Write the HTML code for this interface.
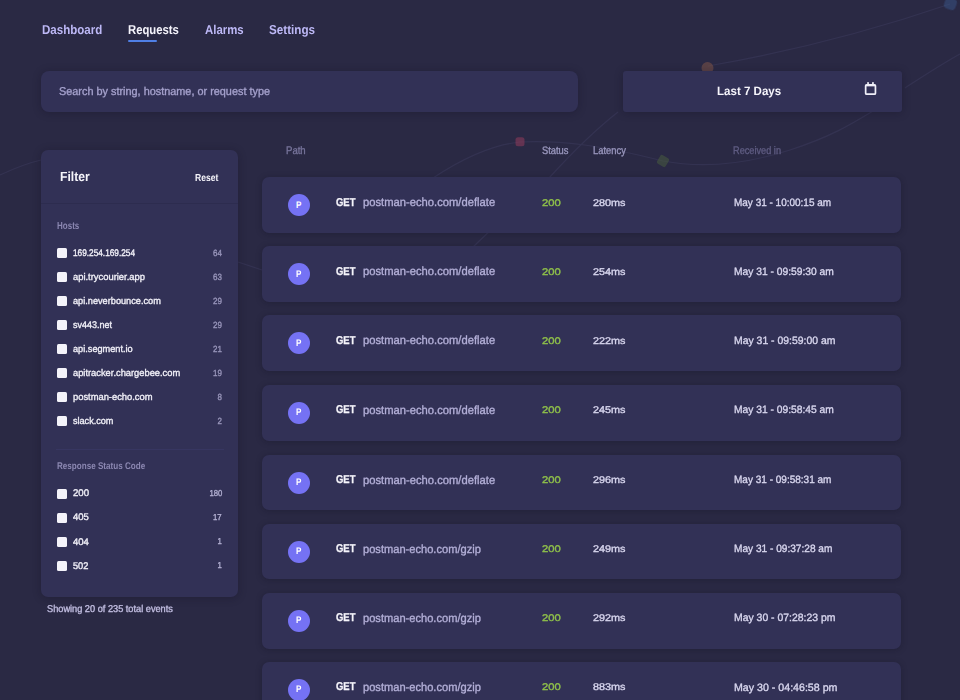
<!DOCTYPE html>
<html><head><meta charset="utf-8"><style>
html,body{margin:0;padding:0;}
body{width:960px;height:700px;overflow:hidden;background:#2a2944;position:relative;font-family:"Liberation Sans",sans-serif;}
.t{position:absolute;white-space:nowrap;line-height:1;transform-origin:0 0;text-rendering:geometricPrecision;}
.box{position:absolute;box-sizing:border-box;}
.card{position:absolute;background:#323156;}
.cb{position:absolute;width:10px;height:10px;background:#f4f3fa;border-radius:1.5px;}
.av{position:absolute;width:22px;height:22px;border-radius:50%;background:#7572f4;}
</style></head><body>
<svg style="position:absolute;left:0;top:0" width="960" height="700" viewBox="0 0 960 700">
<defs><filter id="bl" x="-10%" y="-10%" width="120%" height="120%"><feGaussianBlur stdDeviation="0.6"/></filter></defs>
<g fill="none" stroke="#4a4870" stroke-width="1.2" opacity="0.3" filter="url(#bl)">
<path d="M708 66 Q 830 45 950 4"/>
<path d="M960 54 C 940 65, 925 75, 905 88"/>
<path d="M433 178 C 460 160, 490 145, 520 142 C 560 140, 600 145, 663 161 C 700 168, 740 166, 790 150 C 830 137, 850 125, 873 111"/>
<path d="M470 250 C 500 220, 525 200, 549 178 C 570 155, 595 130, 618 112"/>
<path d="M0 175 C 15 168, 28 163, 41 160"/>
<path d="M238 262 L262 270"/>
</g>
<g filter="url(#bl)" opacity="0.6"><circle cx="707.5" cy="68" r="6" fill="#7a5248"/>
<rect x="944.5" y="-2" width="12" height="11.5" rx="4" fill="#3a5588" opacity="0.85" transform="rotate(20 950.5 3.5)"/>
<rect x="515.5" y="137.2" width="9" height="9" rx="2.5" fill="#8a3a5a"/>
<rect x="658" y="156" width="10" height="10" rx="2" fill="#46593f" transform="rotate(30 663 161)"/></g>
</svg>
<div class="t" style="left:41.70px;top:24.02px;font-size:12.85px;color:#bdb8f6;font-weight:700;transform:scaleX(0.8982);">Dashboard</div>
<div class="t" style="left:128.00px;top:24.02px;font-size:12.85px;color:#f4f3fb;font-weight:700;transform:scaleX(0.8786);">Requests</div>
<div class="t" style="left:204.70px;top:24.02px;font-size:12.85px;color:#bdb8f6;font-weight:700;transform:scaleX(0.8862);">Alarms</div>
<div class="t" style="left:268.70px;top:24.02px;font-size:12.85px;color:#bdb8f6;font-weight:700;transform:scaleX(0.9075);">Settings</div>
<div class="box" style="left:128px;top:40px;width:29px;height:2px;background:#4f7fe6;border-radius:1px"></div>
<div class="card" style="left:41px;top:71px;width:537px;height:40.5px;border-radius:8px;box-shadow:0 1px 8px rgba(15,14,30,0.3)"></div>
<div class="t" style="left:59.00px;top:87.13px;font-size:11.31px;color:#a5a1cc;font-weight:400;transform:scaleX(0.9628);-webkit-text-stroke:0.35px currentColor;">Search by string, hostname, or request type</div>
<div class="card" style="left:622.5px;top:71px;width:279px;height:40.5px;border-radius:3px;box-shadow:0 1px 8px rgba(15,14,30,0.3)"></div>
<div class="t" style="left:717.20px;top:84.83px;font-size:12.01px;color:#f6f5fb;font-weight:700;transform:scaleX(0.9613);">Last 7 Days</div>
<svg style="position:absolute;left:862px;top:80px" width="18" height="18" viewBox="0 0 18 18">
<rect x="3.65" y="4.75" width="9.8" height="9.4" rx="1" fill="none" stroke="#f0eff8" stroke-width="1.7"/>
<rect x="3.65" y="4.75" width="9.8" height="1.6" fill="#f0eff8"/>
<rect x="5.2" y="2" width="1.7" height="2.8" rx="0.4" fill="#f0eff8"/>
<rect x="10.1" y="2" width="1.7" height="2.8" rx="0.4" fill="#f0eff8"/>
</svg>
<div class="card" style="left:41px;top:150.3px;width:197px;height:446.3px;border-radius:7px;box-shadow:0 1px 8px rgba(15,14,30,0.3)"></div>
<div class="box" style="left:41px;top:203px;width:197px;height:1px;background:#2d2c4f"></div>
<div class="t" style="left:60.20px;top:170.37px;font-size:13.27px;color:#f6f5fb;font-weight:700;transform:scaleX(0.9186);">Filter</div>
<div class="t" style="left:195.00px;top:173.67px;font-size:10.2px;color:#f6f5fb;font-weight:700;transform:scaleX(0.8422);">Reset</div>
<div class="t" style="left:57.00px;top:221.87px;font-size:10.2px;color:#8b87b1;font-weight:700;transform:scaleX(0.7868);">Hosts</div>
<div class="cb" style="left:57px;top:248.3px"></div>
<div class="t" style="left:73.40px;top:248.94px;font-size:9.64px;color:#f1f0f8;font-weight:400;transform:scaleX(0.8581);-webkit-text-stroke:0.35px currentColor;">169.254.169.254</div>
<div class="t" style="right:738.1px;top:248.57px;font-size:8.9px;color:#9895ba;transform-origin:100% 0;transform:scaleX(0.9);-webkit-text-stroke:0.35px currentColor;">64</div>
<div class="cb" style="left:57px;top:272.3px"></div>
<div class="t" style="left:73.40px;top:272.94px;font-size:9.64px;color:#f1f0f8;font-weight:400;transform:scaleX(0.9741);-webkit-text-stroke:0.35px currentColor;">api.trycourier.app</div>
<div class="t" style="right:738.1px;top:272.57px;font-size:8.9px;color:#9895ba;transform-origin:100% 0;transform:scaleX(0.9);-webkit-text-stroke:0.35px currentColor;">63</div>
<div class="cb" style="left:57px;top:296.3px"></div>
<div class="t" style="left:73.40px;top:296.94px;font-size:9.64px;color:#f1f0f8;font-weight:400;transform:scaleX(0.9541);-webkit-text-stroke:0.35px currentColor;">api.neverbounce.com</div>
<div class="t" style="right:738.1px;top:296.57px;font-size:8.9px;color:#9895ba;transform-origin:100% 0;transform:scaleX(0.9);-webkit-text-stroke:0.35px currentColor;">29</div>
<div class="cb" style="left:57px;top:320.3px"></div>
<div class="t" style="left:73.40px;top:320.94px;font-size:9.64px;color:#f1f0f8;font-weight:400;transform:scaleX(0.9336);-webkit-text-stroke:0.35px currentColor;">sv443.net</div>
<div class="t" style="right:738.1px;top:320.57px;font-size:8.9px;color:#9895ba;transform-origin:100% 0;transform:scaleX(0.9);-webkit-text-stroke:0.35px currentColor;">29</div>
<div class="cb" style="left:57px;top:344.3px"></div>
<div class="t" style="left:73.40px;top:344.94px;font-size:9.64px;color:#f1f0f8;font-weight:400;transform:scaleX(0.9539);-webkit-text-stroke:0.35px currentColor;">api.segment.io</div>
<div class="t" style="right:738.1px;top:344.57px;font-size:8.9px;color:#9895ba;transform-origin:100% 0;transform:scaleX(0.9);-webkit-text-stroke:0.35px currentColor;">21</div>
<div class="cb" style="left:57px;top:368.3px"></div>
<div class="t" style="left:73.40px;top:368.94px;font-size:9.64px;color:#f1f0f8;font-weight:400;transform:scaleX(0.9678);-webkit-text-stroke:0.35px currentColor;">apitracker.chargebee.com</div>
<div class="t" style="right:738.1px;top:368.57px;font-size:8.9px;color:#9895ba;transform-origin:100% 0;transform:scaleX(0.9);-webkit-text-stroke:0.35px currentColor;">19</div>
<div class="cb" style="left:57px;top:392.3px"></div>
<div class="t" style="left:73.40px;top:392.94px;font-size:9.64px;color:#f1f0f8;font-weight:400;transform:scaleX(0.9712);-webkit-text-stroke:0.35px currentColor;">postman-echo.com</div>
<div class="t" style="right:738.1px;top:392.57px;font-size:8.9px;color:#9895ba;transform-origin:100% 0;transform:scaleX(0.9);-webkit-text-stroke:0.35px currentColor;">8</div>
<div class="cb" style="left:57px;top:416.3px"></div>
<div class="t" style="left:73.40px;top:416.94px;font-size:9.64px;color:#f1f0f8;font-weight:400;transform:scaleX(0.9431);-webkit-text-stroke:0.35px currentColor;">slack.com</div>
<div class="t" style="right:738.1px;top:416.57px;font-size:8.9px;color:#9895ba;transform-origin:100% 0;transform:scaleX(0.9);-webkit-text-stroke:0.35px currentColor;">2</div>
<div class="box" style="left:56px;top:448.5px;width:168px;height:1px;background:#373661"></div>
<div class="t" style="left:57.00px;top:461.62px;font-size:9.78px;color:#8b87b1;font-weight:700;transform:scaleX(0.8294);">Response Status Code</div>
<div class="cb" style="left:57px;top:488.6px"></div>
<div class="t" style="left:73.00px;top:489.24px;font-size:9.64px;color:#f1f0f8;font-weight:400;transform:scaleX(1.0004);-webkit-text-stroke:0.35px currentColor;">200</div>
<div class="t" style="right:738.1px;top:488.92px;font-size:8.6px;color:#b3b0d2;transform-origin:100% 0;transform:scaleX(0.9);-webkit-text-stroke:0.35px currentColor;">180</div>
<div class="cb" style="left:57px;top:512.8px"></div>
<div class="t" style="left:73.00px;top:513.41px;font-size:9.64px;color:#f1f0f8;font-weight:400;transform:scaleX(0.988);-webkit-text-stroke:0.35px currentColor;">405</div>
<div class="t" style="right:738.1px;top:513.09px;font-size:8.6px;color:#b3b0d2;transform-origin:100% 0;transform:scaleX(0.9);-webkit-text-stroke:0.35px currentColor;">17</div>
<div class="cb" style="left:57px;top:536.9px"></div>
<div class="t" style="left:73.00px;top:537.58px;font-size:9.64px;color:#f1f0f8;font-weight:400;transform:scaleX(0.988);-webkit-text-stroke:0.35px currentColor;">404</div>
<div class="t" style="right:738.1px;top:537.26px;font-size:8.6px;color:#b3b0d2;transform-origin:100% 0;transform:scaleX(0.9);-webkit-text-stroke:0.35px currentColor;">1</div>
<div class="cb" style="left:57px;top:561.1px"></div>
<div class="t" style="left:73.00px;top:561.75px;font-size:9.64px;color:#f1f0f8;font-weight:400;transform:scaleX(0.9569);-webkit-text-stroke:0.35px currentColor;">502</div>
<div class="t" style="right:738.1px;top:561.43px;font-size:8.6px;color:#b3b0d2;transform-origin:100% 0;transform:scaleX(0.9);-webkit-text-stroke:0.35px currentColor;">1</div>
<div class="t" style="left:46.50px;top:604.70px;font-size:9.92px;color:#c1bde0;font-weight:400;transform:scaleX(0.9292);-webkit-text-stroke:0.35px currentColor;">Showing 20 of 235 total events</div>
<div class="t" style="left:285.60px;top:145.68px;font-size:10.89px;color:#77749b;font-weight:400;transform:scaleX(0.88);-webkit-text-stroke:0.35px currentColor;">Path</div>
<div class="t" style="left:542.00px;top:145.68px;font-size:10.89px;color:#9a97be;font-weight:400;transform:scaleX(0.858);-webkit-text-stroke:0.35px currentColor;">Status</div>
<div class="t" style="left:593.30px;top:145.68px;font-size:10.89px;color:#9a97be;font-weight:400;transform:scaleX(0.8616);-webkit-text-stroke:0.35px currentColor;">Latency</div>
<div class="t" style="left:733.20px;top:145.68px;font-size:10.89px;color:#5f5c82;font-weight:400;transform:scaleX(0.845);-webkit-text-stroke:0.35px currentColor;">Received in</div>
<div class="card" style="left:262px;top:177.4px;width:639px;height:55.8px;border-radius:7px;box-shadow:0 1px 6px rgba(15,14,30,0.28)"></div>
<div class="av" style="left:287.8px;top:194.3px"></div>
<div class="t" style="left:295.80px;top:200.74px;font-size:9.64px;color:#ffffff;font-weight:700;transform:scaleX(0.8426);">P</div>
<div class="t" style="left:335.50px;top:197.65px;font-size:11.4px;color:#f6f5fb;font-weight:700;transform:scaleX(0.83);-webkit-text-stroke:0.3px currentColor;">GET</div>
<div class="t" style="left:362.70px;top:197.37px;font-size:11.73px;color:#b4b0d8;font-weight:400;transform:scaleX(0.9569);-webkit-text-stroke:0.35px currentColor;">postman-echo.com/deflate</div>
<div class="t" style="left:542.00px;top:198.64px;font-size:9.64px;color:#8fc04a;font-weight:400;transform:scaleX(1.162);-webkit-text-stroke:0.35px currentColor;">200</div>
<div class="t" style="left:593.00px;top:198.72px;font-size:9.78px;color:#d8d6ee;font-weight:400;transform:scaleX(1.1081);-webkit-text-stroke:0.35px currentColor;">280ms</div>
<div class="t" style="left:733.50px;top:198.02px;font-size:10.61px;color:#d8d6ee;font-weight:400;transform:scaleX(0.9411);-webkit-text-stroke:0.35px currentColor;">May 31 - 10:00:15 am</div>
<div class="card" style="left:262px;top:246.4px;width:639px;height:55.8px;border-radius:7px;box-shadow:0 1px 6px rgba(15,14,30,0.28)"></div>
<div class="av" style="left:287.8px;top:263.3px"></div>
<div class="t" style="left:295.80px;top:269.74px;font-size:9.64px;color:#ffffff;font-weight:700;transform:scaleX(0.8426);">P</div>
<div class="t" style="left:335.50px;top:266.65px;font-size:11.4px;color:#f6f5fb;font-weight:700;transform:scaleX(0.83);-webkit-text-stroke:0.3px currentColor;">GET</div>
<div class="t" style="left:362.70px;top:266.37px;font-size:11.73px;color:#b4b0d8;font-weight:400;transform:scaleX(0.9569);-webkit-text-stroke:0.35px currentColor;">postman-echo.com/deflate</div>
<div class="t" style="left:542.00px;top:267.64px;font-size:9.64px;color:#8fc04a;font-weight:400;transform:scaleX(1.162);-webkit-text-stroke:0.35px currentColor;">200</div>
<div class="t" style="left:593.00px;top:267.72px;font-size:9.78px;color:#d8d6ee;font-weight:400;transform:scaleX(1.1081);-webkit-text-stroke:0.35px currentColor;">254ms</div>
<div class="t" style="left:733.50px;top:267.02px;font-size:10.61px;color:#d8d6ee;font-weight:400;transform:scaleX(0.9673);-webkit-text-stroke:0.35px currentColor;">May 31 - 09:59:30 am</div>
<div class="card" style="left:262px;top:315.3px;width:639px;height:55.8px;border-radius:7px;box-shadow:0 1px 6px rgba(15,14,30,0.28)"></div>
<div class="av" style="left:287.8px;top:332.2px"></div>
<div class="t" style="left:295.80px;top:338.64px;font-size:9.64px;color:#ffffff;font-weight:700;transform:scaleX(0.8426);">P</div>
<div class="t" style="left:335.50px;top:335.55px;font-size:11.4px;color:#f6f5fb;font-weight:700;transform:scaleX(0.83);-webkit-text-stroke:0.3px currentColor;">GET</div>
<div class="t" style="left:362.70px;top:335.27px;font-size:11.73px;color:#b4b0d8;font-weight:400;transform:scaleX(0.9569);-webkit-text-stroke:0.35px currentColor;">postman-echo.com/deflate</div>
<div class="t" style="left:542.00px;top:336.54px;font-size:9.64px;color:#8fc04a;font-weight:400;transform:scaleX(1.162);-webkit-text-stroke:0.35px currentColor;">200</div>
<div class="t" style="left:593.00px;top:336.62px;font-size:9.78px;color:#d8d6ee;font-weight:400;transform:scaleX(1.1081);-webkit-text-stroke:0.35px currentColor;">222ms</div>
<div class="t" style="left:733.50px;top:335.92px;font-size:10.61px;color:#d8d6ee;font-weight:400;transform:scaleX(0.9828);-webkit-text-stroke:0.35px currentColor;">May 31 - 09:59:00 am</div>
<div class="card" style="left:262px;top:384.8px;width:639px;height:55.8px;border-radius:7px;box-shadow:0 1px 6px rgba(15,14,30,0.28)"></div>
<div class="av" style="left:287.8px;top:401.7px"></div>
<div class="t" style="left:295.80px;top:408.14px;font-size:9.64px;color:#ffffff;font-weight:700;transform:scaleX(0.8426);">P</div>
<div class="t" style="left:335.50px;top:405.05px;font-size:11.4px;color:#f6f5fb;font-weight:700;transform:scaleX(0.83);-webkit-text-stroke:0.3px currentColor;">GET</div>
<div class="t" style="left:362.70px;top:404.77px;font-size:11.73px;color:#b4b0d8;font-weight:400;transform:scaleX(0.9569);-webkit-text-stroke:0.35px currentColor;">postman-echo.com/deflate</div>
<div class="t" style="left:542.00px;top:406.04px;font-size:9.64px;color:#8fc04a;font-weight:400;transform:scaleX(1.162);-webkit-text-stroke:0.35px currentColor;">200</div>
<div class="t" style="left:593.00px;top:406.12px;font-size:9.78px;color:#d8d6ee;font-weight:400;transform:scaleX(1.1081);-webkit-text-stroke:0.35px currentColor;">245ms</div>
<div class="t" style="left:733.50px;top:405.42px;font-size:10.61px;color:#d8d6ee;font-weight:400;transform:scaleX(0.9673);-webkit-text-stroke:0.35px currentColor;">May 31 - 09:58:45 am</div>
<div class="card" style="left:262px;top:454.6px;width:639px;height:55.8px;border-radius:7px;box-shadow:0 1px 6px rgba(15,14,30,0.28)"></div>
<div class="av" style="left:287.8px;top:471.5px"></div>
<div class="t" style="left:295.80px;top:477.94px;font-size:9.64px;color:#ffffff;font-weight:700;transform:scaleX(0.8426);">P</div>
<div class="t" style="left:335.50px;top:474.85px;font-size:11.4px;color:#f6f5fb;font-weight:700;transform:scaleX(0.83);-webkit-text-stroke:0.3px currentColor;">GET</div>
<div class="t" style="left:362.70px;top:474.57px;font-size:11.73px;color:#b4b0d8;font-weight:400;transform:scaleX(0.9569);-webkit-text-stroke:0.35px currentColor;">postman-echo.com/deflate</div>
<div class="t" style="left:542.00px;top:475.84px;font-size:9.64px;color:#8fc04a;font-weight:400;transform:scaleX(1.162);-webkit-text-stroke:0.35px currentColor;">200</div>
<div class="t" style="left:593.00px;top:475.92px;font-size:9.78px;color:#d8d6ee;font-weight:400;transform:scaleX(1.1081);-webkit-text-stroke:0.35px currentColor;">296ms</div>
<div class="t" style="left:733.50px;top:475.22px;font-size:10.61px;color:#d8d6ee;font-weight:400;transform:scaleX(0.944);-webkit-text-stroke:0.35px currentColor;">May 31 - 09:58:31 am</div>
<div class="card" style="left:262px;top:523.7px;width:639px;height:55.8px;border-radius:7px;box-shadow:0 1px 6px rgba(15,14,30,0.28)"></div>
<div class="av" style="left:287.8px;top:540.6px"></div>
<div class="t" style="left:295.80px;top:547.04px;font-size:9.64px;color:#ffffff;font-weight:700;transform:scaleX(0.8426);">P</div>
<div class="t" style="left:335.50px;top:543.95px;font-size:11.4px;color:#f6f5fb;font-weight:700;transform:scaleX(0.83);-webkit-text-stroke:0.3px currentColor;">GET</div>
<div class="t" style="left:362.70px;top:543.67px;font-size:11.73px;color:#b4b0d8;font-weight:400;transform:scaleX(0.9475);-webkit-text-stroke:0.35px currentColor;">postman-echo.com/gzip</div>
<div class="t" style="left:542.00px;top:544.94px;font-size:9.64px;color:#8fc04a;font-weight:400;transform:scaleX(1.162);-webkit-text-stroke:0.35px currentColor;">200</div>
<div class="t" style="left:593.00px;top:545.02px;font-size:9.78px;color:#d8d6ee;font-weight:400;transform:scaleX(1.1081);-webkit-text-stroke:0.35px currentColor;">249ms</div>
<div class="t" style="left:733.50px;top:544.32px;font-size:10.61px;color:#d8d6ee;font-weight:400;transform:scaleX(0.9537);-webkit-text-stroke:0.35px currentColor;">May 31 - 09:37:28 am</div>
<div class="card" style="left:262px;top:592.8px;width:639px;height:55.8px;border-radius:7px;box-shadow:0 1px 6px rgba(15,14,30,0.28)"></div>
<div class="av" style="left:287.8px;top:609.7px"></div>
<div class="t" style="left:295.80px;top:616.14px;font-size:9.64px;color:#ffffff;font-weight:700;transform:scaleX(0.8426);">P</div>
<div class="t" style="left:335.50px;top:613.05px;font-size:11.4px;color:#f6f5fb;font-weight:700;transform:scaleX(0.83);-webkit-text-stroke:0.3px currentColor;">GET</div>
<div class="t" style="left:362.70px;top:612.77px;font-size:11.73px;color:#b4b0d8;font-weight:400;transform:scaleX(0.9475);-webkit-text-stroke:0.35px currentColor;">postman-echo.com/gzip</div>
<div class="t" style="left:542.00px;top:614.04px;font-size:9.64px;color:#8fc04a;font-weight:400;transform:scaleX(1.162);-webkit-text-stroke:0.35px currentColor;">200</div>
<div class="t" style="left:593.00px;top:614.12px;font-size:9.78px;color:#d8d6ee;font-weight:400;transform:scaleX(1.1081);-webkit-text-stroke:0.35px currentColor;">292ms</div>
<div class="t" style="left:733.50px;top:613.42px;font-size:10.61px;color:#d8d6ee;font-weight:400;transform:scaleX(0.9828);-webkit-text-stroke:0.35px currentColor;">May 30 - 07:28:23 pm</div>
<div class="card" style="left:262px;top:662.1px;width:639px;height:55.8px;border-radius:7px;box-shadow:0 1px 6px rgba(15,14,30,0.28)"></div>
<div class="av" style="left:287.8px;top:679.0px"></div>
<div class="t" style="left:295.80px;top:685.44px;font-size:9.64px;color:#ffffff;font-weight:700;transform:scaleX(0.8426);">P</div>
<div class="t" style="left:335.50px;top:682.35px;font-size:11.4px;color:#f6f5fb;font-weight:700;transform:scaleX(0.83);-webkit-text-stroke:0.3px currentColor;">GET</div>
<div class="t" style="left:362.70px;top:682.07px;font-size:11.73px;color:#b4b0d8;font-weight:400;transform:scaleX(0.9475);-webkit-text-stroke:0.35px currentColor;">postman-echo.com/gzip</div>
<div class="t" style="left:542.00px;top:683.34px;font-size:9.64px;color:#8fc04a;font-weight:400;transform:scaleX(1.162);-webkit-text-stroke:0.35px currentColor;">200</div>
<div class="t" style="left:593.00px;top:683.42px;font-size:9.78px;color:#d8d6ee;font-weight:400;transform:scaleX(1.1081);-webkit-text-stroke:0.35px currentColor;">883ms</div>
<div class="t" style="left:733.50px;top:682.72px;font-size:10.61px;color:#d8d6ee;font-weight:400;transform:scaleX(1.0021);-webkit-text-stroke:0.35px currentColor;">May 30 - 04:46:58 pm</div>
</body></html>
